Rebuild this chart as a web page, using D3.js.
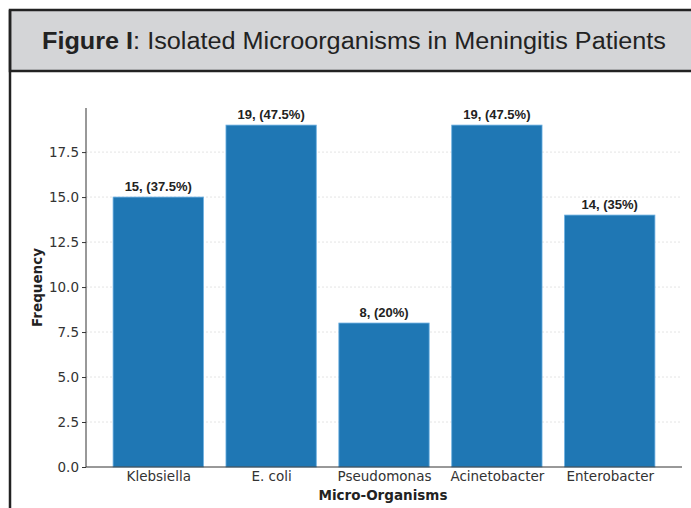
<!DOCTYPE html>
<html>
<head>
	<meta charset="UTF-8">
	<title>Isolated Microorganisms</title>
	<style>
		body { margin: 0; background: #fff; }
		.grid line { stroke: #e4e4e4; stroke-dasharray: 2,2; }
		.axis text { font-family: "DejaVu Sans", sans-serif; font-size: 13.5px; fill: #333; }
		.axis path, .axis line { stroke: #333; }
	</style>
</head>
<body>
<script src="https://d3js.org/d3.v7.min.js"></script>
<script type="text/javascript">

'use strict';

var organisms = ["Klebsiella", "E. coli", "Pseudomonas", "Acinetobacter", "Enterobacter"];
var counts = [15, 19, 8, 19, 14];
var percents = ["37.5%", "47.5%", "20%", "47.5%", "35%"];
var yTicks = [0, 2.5, 5, 7.5, 10, 12.5, 15, 17.5];

var W = 691, H = 508;
var svg = d3.select("body").append("svg")
	.attr("width", W)
	.attr("height", H);

// header box
svg.append("rect")
	.attr("x", 10).attr("y", 10)
	.attr("width", W).attr("height", 61)
	.attr("fill", "#d4d5d7")
	.attr("stroke", "#222")
	.attr("stroke-width", 2.5);
svg.append("line")
	.attr("x1", 10).attr("x2", 10)
	.attr("y1", 10).attr("y2", H)
	.attr("stroke", "#222")
	.attr("stroke-width", 2.5);

var title = svg.append("text")
	.attr("x", 42).attr("y", 49)
	.attr("font-family", "'Liberation Sans', Arial, sans-serif")
	.attr("font-size", 23)
	.attr("fill", "#222")
	.attr("textLength", 624)
	.attr("lengthAdjust", "spacingAndGlyphs");
title.append("tspan").attr("font-weight", "bold").text("Figure I");
title.append("tspan").text(": Isolated Microorganisms in Meningitis Patients");

// plot area
var pLeft = 86, pRight = 682, pTop = 108, pBottom = 467;

var x = d3.scaleLinear().domain([-0.64, 4.64]).range([pLeft, pRight]);
var y = d3.scaleLinear().domain([0, 19.95]).range([pBottom, pTop]);
var bw = x(0.4) - x(-0.4);

svg.append("g")
	.attr("class", "grid")
	.selectAll("line")
	.data(yTicks.slice(1))
	.enter().append("line")
		.attr("x1", pLeft).attr("x2", pRight)
		.attr("y1", function(d){ return y(d); })
		.attr("y2", function(d){ return y(d); });

svg.append("g")
	.selectAll("rect")
	.data(counts)
	.enter().append("rect")
		.attr("x", function(d, i){ return x(i) - bw / 2; })
		.attr("y", function(d){ return y(d); })
		.attr("width", bw)
		.attr("height", function(d){ return pBottom - y(d); })
		.attr("fill", "#1f77b4")
		.attr("stroke", "#6aaee0")
		.attr("stroke-width", 0.8);

svg.append("g")
	.selectAll("text")
	.data(counts)
	.enter().append("text")
		.attr("x", function(d, i){ return x(i); })
		.attr("y", function(d){ return y(d) - 6; })
		.attr("text-anchor", "middle")
		.attr("font-family", "'Liberation Sans', Arial, sans-serif")
		.attr("font-weight", "bold")
		.attr("font-size", 13)
		.attr("fill", "#222")
		.text(function(d, i){ return d + ", (" + percents[i] + ")"; });

svg.append("g")
	.attr("class", "axis")
	.attr("transform", "translate(" + pLeft + ",0)")
	.call(d3.axisLeft(y).tickValues(yTicks).tickFormat(d3.format(".1f")).tickSizeOuter(0).tickSize(4).tickPadding(3))
	.select(".domain").attr("d", "M0," + pBottom + "V" + pTop);

svg.append("g")
	.attr("class", "axis")
	.attr("transform", "translate(0," + pBottom + ")")
	.call(d3.axisBottom(x).tickValues(d3.range(organisms.length))
		.tickFormat(function(i){ return organisms[i]; }).tickSize(0).tickPadding(4))
	.select(".domain").attr("d", "M" + pLeft + ",0H" + pRight);

svg.append("text")
	.attr("transform", "translate(42," + ((pTop + pBottom) / 2) + ") rotate(-90)")
	.attr("text-anchor", "middle")
	.attr("font-family", "'DejaVu Sans', sans-serif")
	.attr("font-weight", "bold")
	.attr("font-size", 13.5)
	.attr("fill", "#222")
	.text("Frequency");

svg.append("text")
	.attr("x", (pLeft + pRight) / 2 - 1)
	.attr("y", 500)
	.attr("text-anchor", "middle")
	.attr("font-family", "'DejaVu Sans', sans-serif")
	.attr("font-weight", "bold")
	.attr("font-size", 13.5)
	.attr("fill", "#222")
	.text("Micro-Organisms");

</script>
</body>
</html>
